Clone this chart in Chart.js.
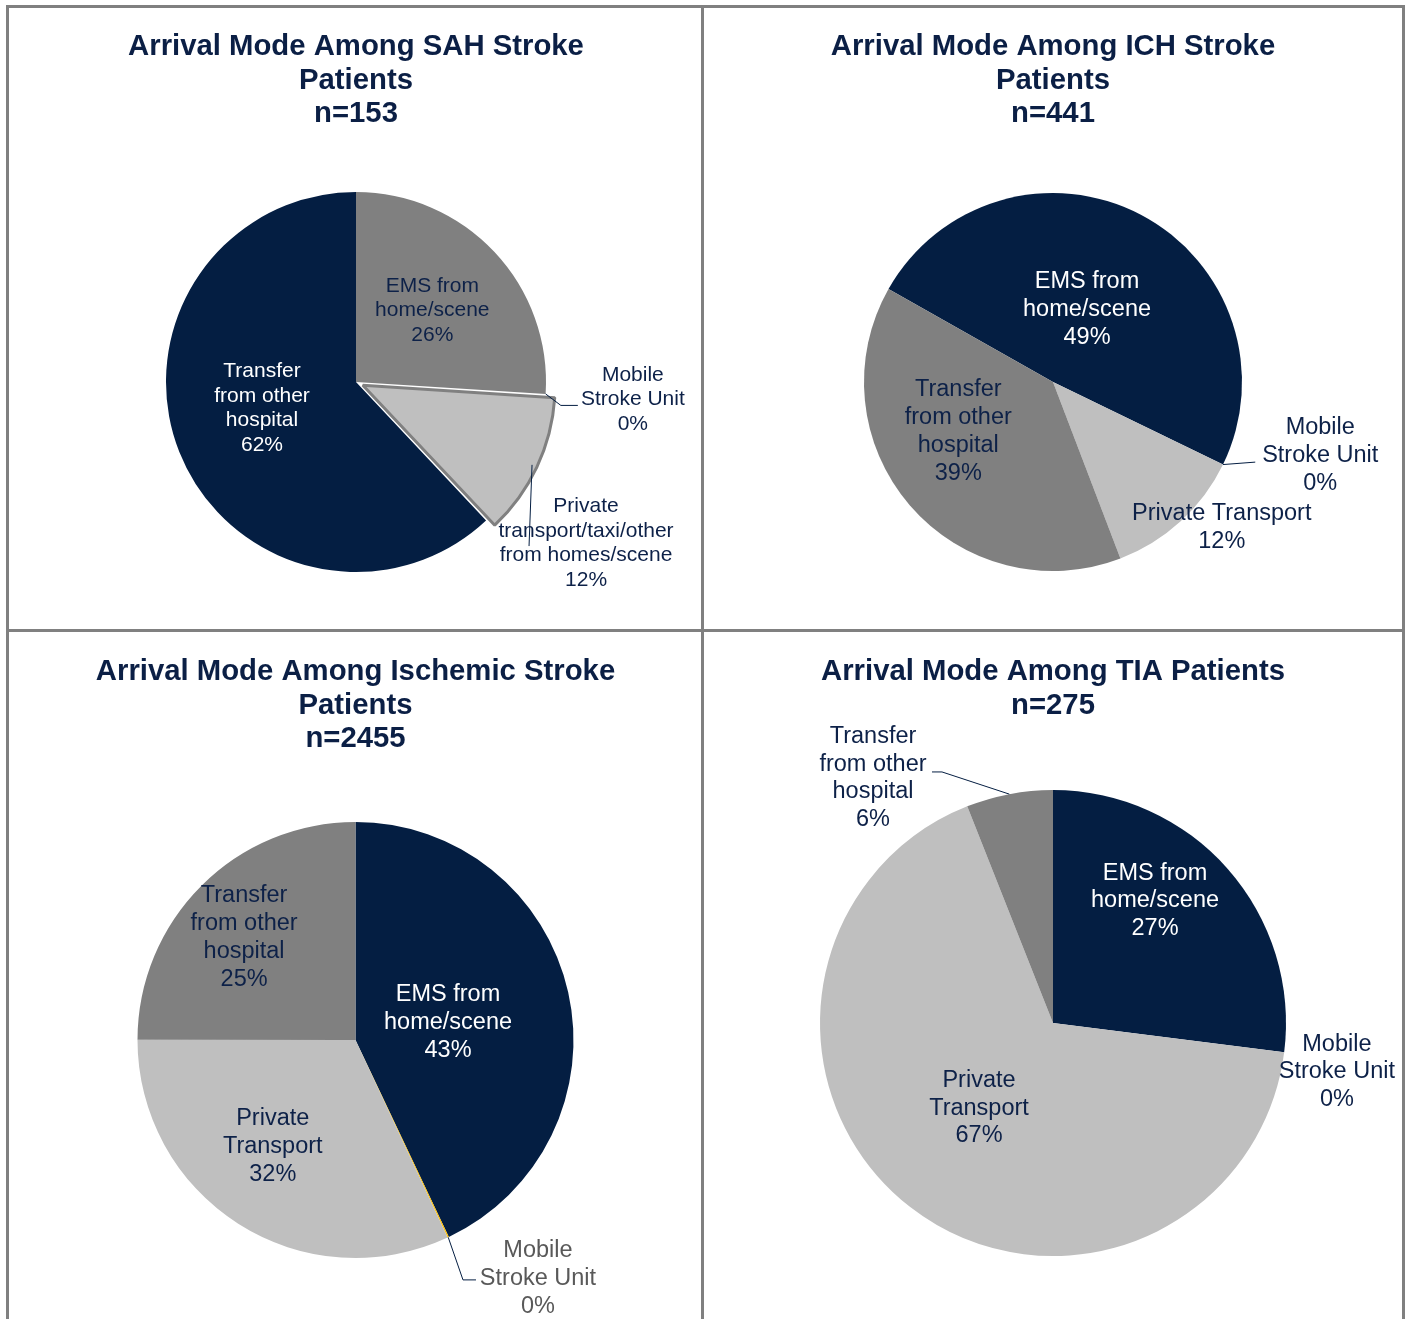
<!DOCTYPE html>
<html><head><meta charset="utf-8">
<script src="https://cdn.jsdelivr.net/npm/chart.js@4.4.1/dist/chart.umd.min.js"></script>
<style>
html,body{margin:0;padding:0;background:#fff;width:1413px;height:1319px;overflow:hidden;}
.rule{position:absolute;background:#808080;}
canvas{position:absolute;}
</style></head><body>
<div class="rule" style="left:6px;top:5px;width:1399px;height:3px"></div>
<div class="rule" style="left:6px;top:5px;width:3px;height:1314px"></div>
<div class="rule" style="left:1402px;top:5px;width:3px;height:1314px"></div>
<div class="rule" style="left:701px;top:5px;width:3px;height:1314px"></div>
<div class="rule" style="left:6px;top:629px;width:1399px;height:3px"></div>
<canvas id="c1" width="692" height="621" style="left:9px;top:8px"></canvas>
<canvas id="c2" width="698" height="621" style="left:704px;top:8px"></canvas>
<canvas id="c3" width="692" height="687" style="left:9px;top:632px"></canvas>
<canvas id="c4" width="698" height="687" style="left:704px;top:632px"></canvas>
<script>
// ---------- data ----------
const categories = ["EMS from home/scene", "Mobile Stroke Unit", "Private Transport", "Transfer from other hospital"];
const sahValues = [26, 0, 12, 62];
const ichValues = [49, 0, 12, 39];
const ischemicValues = [43, 0.1, 32, 25];
const tiaValues = [27, 0, 67, 6];

const sahTitle = ["Arrival Mode Among SAH Stroke", "Patients", "n=153"];
const ichTitle = ["Arrival Mode Among ICH Stroke", "Patients", "n=441"];
const ischemicTitle = ["Arrival Mode Among Ischemic Stroke", "Patients", "n=2455"];
const tiaTitle = ["Arrival Mode Among TIA Patients", "n=275"];

const sahLabelLines = [["EMS from", "home/scene"], ["Mobile", "Stroke Unit"], ["Private", "transport/taxi/other", "from homes/scene"], ["Transfer", "from other", "hospital"]];
const ichLabelLines = [["EMS from", "home/scene"], ["Mobile", "Stroke Unit"], ["Private Transport"], ["Transfer", "from other", "hospital"]];
const ischemicLabelLines = [["EMS from", "home/scene"], ["Mobile", "Stroke Unit"], ["Private", "Transport"], ["Transfer", "from other", "hospital"]];
const tiaLabelLines = [["EMS from", "home/scene"], ["Mobile", "Stroke Unit"], ["Private", "Transport"], ["Transfer", "from other", "hospital"]];

// ---------- styles ----------
const NAVY = '#041E42', GRAY = '#808080', LIGHT = '#BFBFBF', GOLD = '#FFC000';
const TXT = '#0D2148', WHITE = '#FFFFFF', DGRAY = '#595959';
const FONT = "'Liberation Sans', Arial, sans-serif";

const sliceLabels = {
  id: 'sliceLabels',
  afterDatasetsDraw(chart, args, o) {
    const meta = chart.getDatasetMeta(0);
    const data = chart.data.datasets[0].data;
    const total = data.reduce((a, b) => a + b, 0);
    const ctx = chart.ctx;
    ctx.save();
    meta.data.forEach((arc, i) => {
      const p = arc.getProps(['x', 'y', 'startAngle', 'endAngle', 'outerRadius'], true);
      const pl = o.place[i];
      const mid = (p.startAngle + p.endAngle) / 2;
      const a = mid + pl.da * Math.PI / 180;
      const lx = p.x + Math.cos(a) * p.outerRadius * pl.rf;
      const ly = p.y + Math.sin(a) * p.outerRadius * pl.rf;
      const lines = o.lines[i].concat([Math.round(data[i] / total * 100) + '%']);
      if (pl.leader) {
        const sx = p.x + Math.cos(mid) * p.outerRadius * pl.leader.sr;
        const sy = p.y + Math.sin(mid) * p.outerRadius * pl.leader.sr;
        ctx.beginPath();
        ctx.strokeStyle = NAVY;
        ctx.lineWidth = 1;
        ctx.moveTo(sx, sy);
        pl.leader.pts.forEach(q => ctx.lineTo(lx + q[0], ly + q[1]));
        ctx.stroke();
      }
      ctx.fillStyle = o.colors[i];
      ctx.font = o.size + 'px ' + FONT;
      ctx.textAlign = 'center';
      ctx.textBaseline = 'middle';
      lines.forEach((t, k) => ctx.fillText(t, lx, ly + (k - (lines.length - 1) / 2) * o.lh));
    });
    ctx.restore();
  }
};

function makePie(id, values, colors, title, opts) {
  new Chart(document.getElementById(id), {
    type: 'pie',
    data: {
      labels: categories,
      datasets: [{
        data: values,
        backgroundColor: colors,
        borderWidth: opts.borderWidth || 0,
        borderColor: opts.borderColor || '#fff',
        offset: opts.offset || 0,
        radius: opts.radius
      }]
    },
    options: {
      responsive: false,
      animation: false,
      rotation: opts.rotation || 0,
      layout: { padding: opts.padding },
      plugins: {
        legend: { display: false },
        tooltip: { enabled: false },
        title: {
          display: true,
          text: title,
          color: '#0B1F45',
          font: { family: FONT, size: 29.3, weight: 'bold', lineHeight: 33.5 / 29.3 },
          padding: opts.titlePad
        },
        sliceLabels: opts.labels
      }
    },
    plugins: [sliceLabels]
  });
}

makePie('c1', sahValues, [GRAY, GOLD, LIGHT, NAVY], sahTitle, {
  radius: 190,
  padding: { left: 2, bottom: 3.75 },
  titlePad: { top: 22.25, bottom: 8 },
  borderWidth: [0, 0, 3, 0],
  borderColor: GRAY,
  offset: [0, 0, 30, 0],
  labels: {
    lines: sahLabelLines, size: 21, lh: 24.5,
    colors: [TXT, TXT, TXT, WHITE],
    place: [
      { da: 0, rf: 0.551 },
      { da: 0, rf: 1.46, leader: { sr: 1.0, pts: [[-72, 6], [-55, 6]] } },
      { da: 9.8, rf: 1.478, leader: { sr: 1.024, pts: [[-57, 3]] } },
      { da: 5.9, rf: 0.514 }
    ]
  }
});

makePie('c2', ichValues, [NAVY, GOLD, LIGHT, GRAY], ichTitle, {
  radius: 189,
  rotation: -60.5,
  padding: { bottom: 3.75 },
  titlePad: { top: 22.25, bottom: 8 },
  labels: {
    lines: ichLabelLines, size: 23.5, lh: 28,
    colors: [WHITE, TXT, TXT, TXT],
    place: [
      { da: -2.7, rf: 0.426 },
      { da: -10.6, rf: 1.466, leader: { sr: 1.0, pts: [[-65, 7]] } },
      { da: -6.8, rf: 1.178 },
      { da: 13, rf: 0.566 }
    ]
  }
});

makePie('c3', ischemicValues, [NAVY, GOLD, LIGHT, GRAY], ischemicTitle, {
  radius: 218,
  padding: { left: 1, bottom: 2.75 },
  titlePad: { top: 23.25, bottom: 8 },
  labels: {
    lines: ischemicLabelLines, size: 23.5, lh: 28,
    colors: [WHITE, DGRAY, TXT, TXT],
    place: [
      { da: 1.9, rf: 0.432 },
      { da: -12.2, rf: 1.379, leader: { sr: 1.0, pts: [[-75, 1], [-62, 1]] } },
      { da: 5.2, rf: 0.62 },
      { da: -2.3, rf: 0.696 }
    ]
  }
});

makePie('c4', tiaValues, [NAVY, GOLD, LIGHT, GRAY], tiaTitle, {
  radius: 233,
  padding: { bottom: 3.25 },
  titlePad: { top: 23.25, bottom: 8 },
  labels: {
    lines: tiaLabelLines, size: 23.5, lh: 27.5,
    colors: [WHITE, TXT, TXT, TXT],
    place: [
      { da: -8.8, rf: 0.684 },
      { da: 2.5, rf: 1.236 },
      { da: 3.1, rf: 0.485 },
      { da: -25.5, rf: 1.305, leader: { sr: 1.0, pts: [[69, -6], [59, -6]] } }
    ]
  }
});
</script>
</body></html>
